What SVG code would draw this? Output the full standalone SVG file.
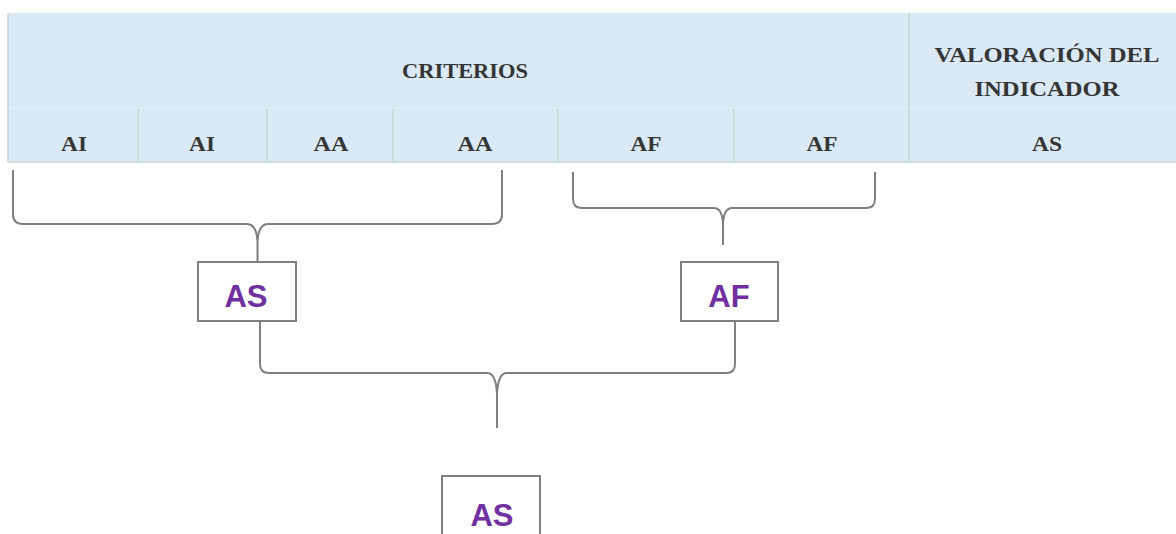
<svg xmlns="http://www.w3.org/2000/svg" width="1176" height="534" viewBox="0 0 1176 534">
<defs>
<style>
.cell{fill:#d9e9f5;}
.div{stroke:#c3d9d2;stroke-width:1.5;fill:none;}
.rowdiv{stroke:#e6f0f8;stroke-width:1.5;fill:none;}
.th{font-family:"Liberation Serif","DejaVu Serif",serif;font-weight:bold;font-size:20px;fill:#353535;text-anchor:middle;}
.box{fill:#ffffff;stroke:#7f7f7f;stroke-width:2;}
.bt{font-family:"Liberation Sans","DejaVu Sans",sans-serif;font-weight:bold;font-size:31px;fill:#7030a0;text-anchor:middle;}
.br{stroke:#7f7f7f;stroke-width:2;fill:none;stroke-linejoin:round;}
</style>
</defs>
<rect width="1176" height="534" fill="#ffffff"/>
<g id="table">
<rect class="cell" x="8" y="13" width="1168" height="149"/>
<line class="rowdiv" x1="8" y1="108.5" x2="1176" y2="108.5"/>
<line x1="8" y1="13" x2="8" y2="162" stroke="#c9d6de" stroke-width="1.5"/>
<line x1="8" y1="162" x2="1176" y2="162" stroke="#c3d9d2" stroke-width="1.5"/>
<line class="div" x1="138" y1="109" x2="138" y2="162"/>
<line class="div" x1="267" y1="109" x2="267" y2="162"/>
<line class="div" x1="393" y1="109" x2="393" y2="162"/>
<line class="div" x1="558" y1="109" x2="558" y2="162"/>
<line class="div" x1="734" y1="109" x2="734" y2="162"/>
<line class="div" x1="909" y1="13" x2="909" y2="162"/>
<text class="th" x="465" y="78" textLength="126" lengthAdjust="spacingAndGlyphs">CRITERIOS</text>
<text class="th" x="1047" y="62" textLength="225" lengthAdjust="spacingAndGlyphs">VALORACIÓN DEL</text>
<text class="th" x="1047" y="96" textLength="145" lengthAdjust="spacingAndGlyphs">INDICADOR</text>
<text class="th" x="74" y="151" textLength="26" lengthAdjust="spacingAndGlyphs">AI</text>
<text class="th" x="202" y="151" textLength="26" lengthAdjust="spacingAndGlyphs">AI</text>
<text class="th" x="331" y="151" textLength="35" lengthAdjust="spacingAndGlyphs">AA</text>
<text class="th" x="475" y="151" textLength="35" lengthAdjust="spacingAndGlyphs">AA</text>
<text class="th" x="646" y="151" textLength="31" lengthAdjust="spacingAndGlyphs">AF</text>
<text class="th" x="822" y="151" textLength="31" lengthAdjust="spacingAndGlyphs">AF</text>
<text class="th" x="1047" y="151" textLength="30" lengthAdjust="spacingAndGlyphs">AS</text>
</g>
<g id="connectors">
<path class="br" d="M13,170 V214 Q13,224 23,224 H247 Q256,224 257.5,240 V261"/>
<path class="br" d="M502,170 V214 Q502,224 492,224 H268 Q259,224 257.5,240"/>
<path class="br" d="M573,172 V199 Q573,208 582,208 H714 Q722,208 723,223 V245"/>
<path class="br" d="M875,172 V199 Q875,208 866,208 H732 Q724,208 723,223"/>
<path class="br" d="M260,322 V364 Q260,373 269,373 H487 Q496,373 497,394 V428"/>
<path class="br" d="M735,322 V364 Q735,373 726,373 H507 Q498,373 497,394"/>
</g>
<g id="node-as1">
<rect class="box" x="198" y="262" width="98" height="59"/>
<text class="bt" x="246" y="307">AS</text>
</g>
<g id="node-af">
<rect class="box" x="681" y="262" width="97" height="59"/>
<text class="bt" x="729" y="307">AF</text>
</g>
<g id="node-as2">
<rect class="box" x="442" y="476" width="98" height="70"/>
<text class="bt" x="492" y="526">AS</text>
</g>
</svg>
